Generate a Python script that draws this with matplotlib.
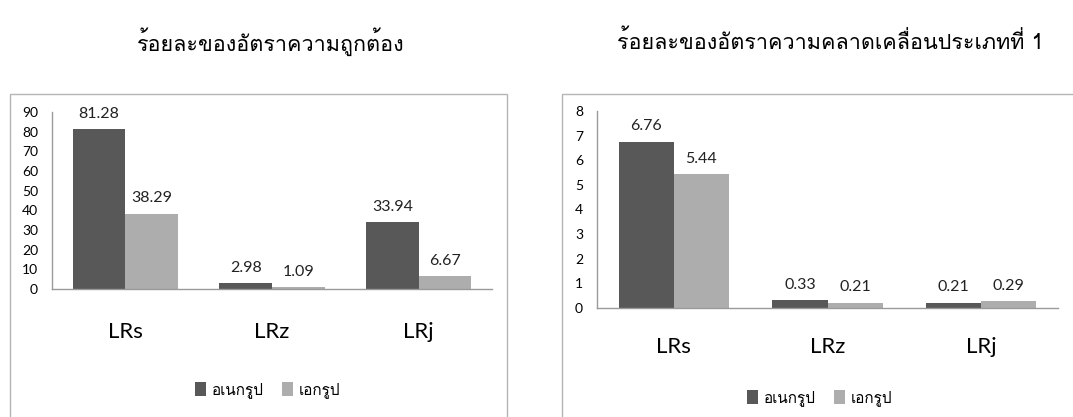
import matplotlib
matplotlib.use("Agg")
import matplotlib.pyplot as plt
from matplotlib import font_manager
from matplotlib.ft2font import FT2Font
from matplotlib.patches import Rectangle
import numpy as np

# Data
categories = ['LRs', 'LRz', 'LRj']
series_names = ['อเนกรูป', 'เอกรูป']
accuracy_multi = [81.28, 2.98, 33.94]
accuracy_single = [38.29, 1.09, 6.67]
error1_multi = [6.76, 0.33, 0.21]
error1_single = [5.44, 0.21, 0.29]
title_left = 'ร้อยละของอัตราความถูกต้อง'
title_right = 'ร้อยละของอัตราความคลาดเคลื่อนประเภทที่ 1'

DARK = '#585858'
LIGHT = '#adadad'
W, H = 1073, 417


def thai_family():
    for f in font_manager.fontManager.ttflist:
        try:
            if 0x0E01 in FT2Font(f.fname).get_charmap():
                return f.name
        except Exception:
            pass
    return 'DejaVu Sans'


THAI = thai_family()
LATIN = 'Lato'


def px_axes(fig, x0, y_top, x1, y_bottom):
    return fig.add_axes([x0 / W, 1 - y_bottom / H, (x1 - x0) / W, (y_bottom - y_top) / H])


def draw_panel(ax, multi, single, ymax, ystep, cat_pad):
    x = np.arange(len(categories))
    w = 0.36
    b1 = ax.bar(x - w / 2, multi, w, color=DARK, label=series_names[0])
    b2 = ax.bar(x + w / 2, single, w, color=LIGHT, label=series_names[1])
    for bars in (b1, b2):
        ax.bar_label(bars, labels=[f'{v:.2f}' for v in bars.datavalues],
                     padding=6, fontsize=11.5, family=LATIN, color='#222222')
    ax.set_xlim(-0.5, len(categories) - 0.5)
    ax.set_ylim(0, ymax)
    ax.set_yticks(np.arange(0, ymax + ystep / 2, ystep))
    ax.set_xticks(x)
    ax.set_xticklabels(categories, fontsize=16, family=LATIN)
    ax.tick_params(axis='x', length=0, pad=cat_pad)
    ax.tick_params(axis='y', length=0, pad=10, labelsize=10)
    for lab in ax.get_yticklabels():
        lab.set_family(LATIN)
    for s in ('top', 'right'):
        ax.spines[s].set_visible(False)
    for s in ('left', 'bottom'):
        ax.spines[s].set_color('#9a9a9a')
        ax.spines[s].set_linewidth(1.0)
    ax.set_facecolor('none')
    return b1, b2


fig = plt.figure(figsize=(W / 100, H / 100), dpi=100)

# panel frames, running off the bottom (and right) edge
fig.patches.append(Rectangle((10 / W, -0.1), 497 / W, 1.1 - 94 / H, transform=fig.transFigure,
                             fill=False, edgecolor='#b5b5b5', linewidth=1.0))
fig.patches.append(Rectangle((562 / W, -0.1), 530 / W, 1.1 - 94 / H, transform=fig.transFigure,
                             fill=False, edgecolor='#b5b5b5', linewidth=1.0))

ax1 = px_axes(fig, 52, 112, 492, 289)
draw_panel(ax1, accuracy_multi, accuracy_single, 90, 10, 24)
ax2 = px_axes(fig, 597, 111, 1058, 308)
draw_panel(ax2, error1_multi, error1_single, 8, 1, 21)

fig.text(271 / W, 1 - 42 / H, title_left, ha='center', va='center', fontsize=15.5, family=THAI)
fig.text(830 / W, 1 - 42 / H, title_right, ha='center', va='center', fontsize=15.5, family=THAI)

for ax, cx, cy in ((ax1, 268, 390), (ax2, 820, 398)):
    ax.legend(loc='center', bbox_to_anchor=(cx / W, 1 - cy / H), bbox_transform=fig.transFigure,
              ncol=2, frameon=False, prop={'family': THAI, 'size': 11},
              handlelength=0.7, handleheight=1.1, handletextpad=0.4, columnspacing=1.2)

fig.savefig('out.png', dpi=100)
